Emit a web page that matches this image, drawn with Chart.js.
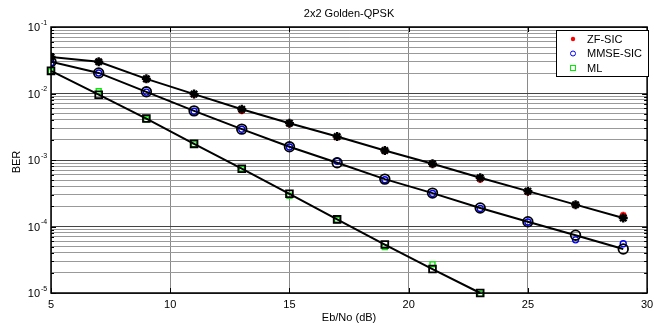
<!DOCTYPE html>
<html>
<head>
<meta charset="utf-8">
<script src="https://cdn.jsdelivr.net/npm/chart.js@4"></script>
<style>
  html, body { margin: 0; padding: 0; background: #fff; }
  #wrap { width: 654px; height: 326px; position: relative; }
</style>
</head>
<body>
<div id="wrap"><canvas id="berChart"></canvas></div>
<script>
const ebno = [5, 7, 9, 11, 13, 15, 17, 19, 21, 23, 25, 27, 29];
const ebnoMl = [5, 7, 9, 11, 13, 15, 17, 19, 21, 23];

// simulated points (coloured markers)
const zfSim = [0.035, 0.030, 0.0164, 0.0096, 0.0055, 0.0035, 0.0022, 0.00137, 0.00086, 0.00051, 0.00033, 0.00021, 0.000148];
const mmseSim = [0.029, 0.0203, 0.0105, 0.0054, 0.0029, 0.00157, 0.00096, 0.000505, 0.000313, 0.000187, 0.000117, 0.000063, 0.000055];
const mlSim = [0.0215, 0.0108, 0.0041, 0.00172, 0.00073, 0.00029, 0.000125, 0.000049, 0.000027, 0.0000097];

// black curves with markers
const zfCurve = [0.0355, 0.030, 0.0166, 0.0098, 0.0058, 0.00358, 0.00225, 0.00139, 0.00088, 0.00054, 0.00034, 0.000213, 0.000134];
const mmseCurve = [0.030, 0.0204, 0.0106, 0.00548, 0.00291, 0.00158, 0.00091, 0.000516, 0.000318, 0.000190, 0.000118, 0.000074, 0.0000459];
const mlCurve = [0.0219, 0.0096, 0.0042, 0.00175, 0.00074, 0.00031, 0.000128, 0.0000535, 0.0000229, 0.0000100];

const xTicks = [5, 10, 15, 20, 25, 30];
const decades = [-5, -4, -3, -2, -1];

const FONT = "'Liberation Sans', Arial, sans-serif";

function pts(xs, ys) {
    return xs.map((x, i) => ({ x: x, y: ys[i] }));
}

function yTickValues() {
    const vals = [];
    for (let d = -5; d <= -1; d++) {
        for (let m = 1; m <= 9; m++) {
            vals.push(m * Math.pow(10, d));
            if (d === -1) break;
        }
    }
    return vals;
}

function isMajor(v) {
    const l = Math.log10(v);
    return Math.abs(l - Math.round(l)) < 1e-6;
}

// axis labels, box, tick marks, legend drawn on top
const decorPlugin = {
    id: "decor",
    afterDraw(chart) {
        const ctx = chart.ctx;
        const a = chart.chartArea;
        const xs = chart.scales.x;
        const ys = chart.scales.y;
        ctx.save();

        // box
        ctx.strokeStyle = "#000";
        ctx.lineWidth = 1.5;
        ctx.strokeRect(a.left, a.top, a.right - a.left, a.bottom - a.top);

        // inward tick marks
        ctx.lineWidth = 1;
        xTicks.forEach((t) => {
            const px = Math.round(xs.getPixelForValue(t)) + 0.5;
            ctx.beginPath();
            ctx.moveTo(px, a.bottom); ctx.lineTo(px, a.bottom - 5);
            ctx.moveTo(px, a.top); ctx.lineTo(px, a.top + 5);
            ctx.stroke();
        });
        yTickValues().forEach((v) => {
            const py = Math.round(ys.getPixelForValue(v)) + 0.5;
            const len = isMajor(v) ? 5 : 3;
            ctx.beginPath();
            ctx.moveTo(a.left, py); ctx.lineTo(a.left + len, py);
            ctx.moveTo(a.right, py); ctx.lineTo(a.right - len, py);
            ctx.stroke();
        });

        // y tick labels 10^k
        ctx.fillStyle = "#000";
        ctx.textBaseline = "middle";
        decades.forEach((d) => {
            const py = ys.getPixelForValue(Math.pow(10, d));
            ctx.font = "11px " + FONT;
            ctx.textAlign = "right";
            ctx.fillText("10", 40, py + 1);
            ctx.font = "7px " + FONT;
            ctx.textAlign = "left";
            ctx.fillText(String(d), 41, py - 4);
        });

        // x tick labels
        ctx.font = "11px " + FONT;
        ctx.textAlign = "center";
        xTicks.forEach((t) => {
            ctx.fillText(String(t), xs.getPixelForValue(t), 305);
        });

        // title and axis titles
        ctx.fillText("2x2 Golden-QPSK", (a.left + a.right) / 2, 14);
        ctx.fillText("Eb/No (dB)", (a.left + a.right) / 2, 318);
        ctx.save();
        ctx.translate(17, 162);
        ctx.rotate(-Math.PI / 2);
        ctx.fillText("BER", 0, 0);
        ctx.restore();

        // legend
        const lx = 556, ly = 30, lw = 92, lh = 46;
        ctx.fillStyle = "#fff";
        ctx.fillRect(lx, ly, lw, lh);
        ctx.strokeStyle = "#000";
        ctx.lineWidth = 1;
        ctx.strokeRect(lx + 0.5, ly + 0.5, lw, lh);
        const items = chart.data.datasets.filter((ds) => ds.inLegend);
        items.forEach((ds, i) => {
            const cy = ly + 9 + i * 14.5;
            const cx = 573;
            ctx.strokeStyle = ds.borderColor;
            ctx.fillStyle = ds.borderColor;
            ctx.lineWidth = 1;
            if (ds.pointStyle === "circle") {
                ctx.beginPath();
                ctx.arc(cx, cy, 2.5, 0, Math.PI * 2);
                ctx.stroke();
            } else if (ds.pointStyle === "rect") {
                ctx.strokeRect(cx - 2.5, cy - 2.5, 5, 5);
            } else {
                ctx.beginPath();
                ctx.arc(cx, cy, 2.2, 0, Math.PI * 2);
                ctx.fill();
            }
            ctx.fillStyle = "#000";
            ctx.font = "11px " + FONT;
            ctx.textAlign = "left";
            ctx.textBaseline = "middle";
            ctx.fillText(ds.label, 587, cy + 0.5);
        });
        ctx.restore();
    }
};

const ctx = document.getElementById("berChart").getContext("2d");

const berChart = new Chart(ctx, {
    type: "line",
    data: {
        datasets: [
            {
                label: "ZF-SIC", inLegend: true, data: pts(ebno, zfSim),
                showLine: false, pointStyle: "star", pointRadius: 3.5,
                borderColor: "#ff0000", backgroundColor: "#ff0000", pointBorderWidth: 2, order: 2
            },
            {
                label: "MMSE-SIC", inLegend: true, data: pts(ebno, mmseSim),
                showLine: false, pointStyle: "circle", pointRadius: 3,
                borderColor: "#0000ff", backgroundColor: "rgba(0,0,0,0)", pointBorderWidth: 1.4, order: 2
            },
            {
                label: "ML", inLegend: true, data: pts(ebnoMl, mlSim),
                showLine: false, pointStyle: "rect", pointRadius: 3.5,
                borderColor: "#00ee00", backgroundColor: "rgba(0,0,0,0)", pointBorderWidth: 1.4, order: 2, clip: false
            },
            {
                label: "ZF-SIC fit", data: pts(ebno, zfCurve),
                borderColor: "#000", backgroundColor: "#000", borderWidth: 2,
                pointStyle: "star", pointRadius: 4.5, pointBorderWidth: 2.4, order: 1
            },
            {
                label: "MMSE-SIC fit", data: pts(ebno, mmseCurve),
                borderColor: "#000", backgroundColor: "rgba(0,0,0,0)", borderWidth: 2,
                pointStyle: "circle", pointRadius: 4.8, pointBorderWidth: 1.8, order: 1
            },
            {
                label: "ML fit", data: pts(ebnoMl, mlCurve),
                borderColor: "#000", backgroundColor: "rgba(0,0,0,0)", borderWidth: 2,
                pointStyle: "rect", pointRadius: 4.8, pointBorderWidth: 1.8, order: 1, clip: false
            }
        ]
    },
    options: {
        responsive: true,
        maintainAspectRatio: false,
        animation: false,
        events: [],
        layout: { padding: { top: 27, right: 3, left: 0, bottom: 0 } },
        plugins: {
            legend: { display: false },
            title: { display: false },
            tooltip: { enabled: false }
        },
        scales: {
            x: {
                type: "linear",
                min: 5,
                max: 30,
                afterBuildTicks: (scale) => { scale.ticks = xTicks.map((v) => ({ value: v })); },
                afterFit: (scale) => { scale.height = 33; scale.paddingLeft = 0; scale.paddingRight = 0; },
                ticks: { display: false },
                grid: { color: "#8a8a8a", lineWidth: 1, drawTicks: false },
                border: { display: false }
            },
            y: {
                type: "logarithmic",
                min: 1e-5,
                max: 1e-1,
                afterBuildTicks: (scale) => { scale.ticks = yTickValues().map((v) => ({ value: v })); },
                afterFit: (scale) => { scale.width = 51; scale.paddingTop = 0; scale.paddingBottom = 0; },
                ticks: { display: false },
                grid: {
                    drawTicks: false,
                    lineWidth: 1,
                    color: (c) => (c.tick && isMajor(c.tick.value)) ? "#444" : "#999"
                },
                border: { display: false }
            }
        }
    },
    plugins: [decorPlugin]
});
</script>
</body>
</html>
